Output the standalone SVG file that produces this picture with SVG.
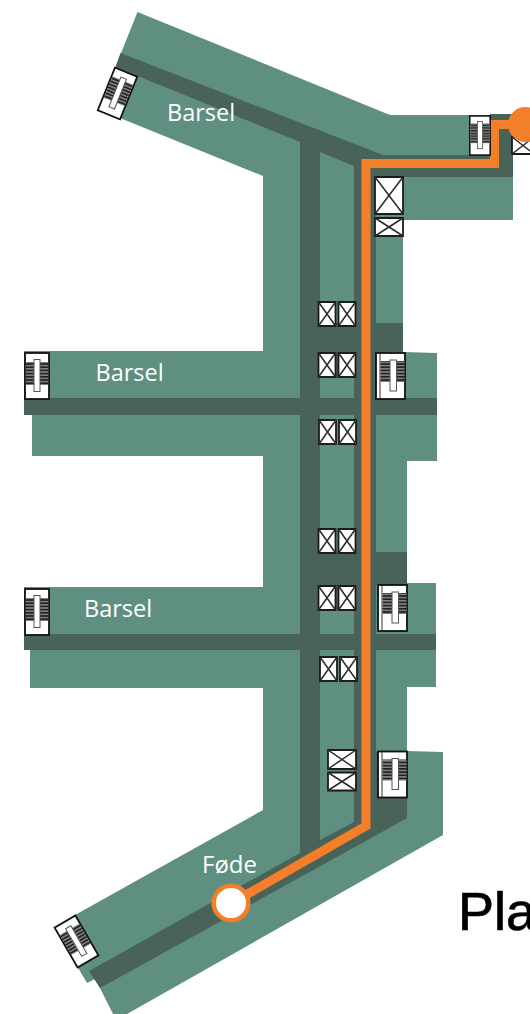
<svg xmlns="http://www.w3.org/2000/svg" width="530" height="1014" viewBox="0 0 530 1014">
<style>
.g{fill:#5f8f80}.d{fill:#4a6359}
.x{fill:#fff;stroke:#1c1c1c;stroke-width:1.8}
.xl{stroke:#2a2a2a;stroke-width:1.5;fill:none}
.lb{font-family:"Open Sans","Noto Sans",sans-serif;fill:#fff;font-size:23.5px}
.door{fill:#fff;stroke:#111;stroke-width:1.8}
</style>
<defs>
<pattern id="st" width="4" height="3.200" patternUnits="userSpaceOnUse"><rect width="4" height="3.200" fill="#808080"/><rect width="4" height="1.600" fill="#222"/></pattern>
<g id="door">
<rect class="door" x="-12" y="-23" width="24" height="46"/>
<rect x="-11.200" y="-14" width="22.400" height="23" fill="url(#st)"/>
<rect x="-3" y="-16.500" width="6" height="32" fill="#fff" stroke="#555" stroke-width="1"/>
</g>
<g id="doorw">
<rect class="door" x="-14.500" y="-23" width="29" height="46"/>
<path d="M-10.500-23V23" stroke="#333" stroke-width="1" fill="none"/>
<rect x="-10" y="-15" width="24" height="21" fill="url(#st)"/>
<rect x="-0.500" y="-16" width="6.500" height="31" fill="#fff" stroke="#555" stroke-width="1"/>
</g>
<g id="xb"><rect class="x" x="0" y="0" width="1" height="1" vector-effect="non-scaling-stroke"/><path class="xl" d="M0 0L1 1M1 0L0 1" vector-effect="non-scaling-stroke"/></g>
</defs>
<g id="plan-floor">
<path class="g" d="M137.500 12L390 115H513V220H403V352L437 353V461H407V583L436 583V687H407V751L443 752V835L127 1014H113L100 988L95 979L87 983L60 937L75 915L263 810V688H30V649H24V587L263 587V456H32V414H24V351H263V176L120 118L100 105L115.500 67Z"/>
<path class="d" d="M120.500 53L383 155H490V114H513V177H376V323H403V352H376V398H437V415H376V552H407V585H376V634H436V650H376V752H407V818L373 837L100 988L89 971L300 853V650H24V634H300V415H24V398H300V142L115.500 67Z"/>
<path class="g" d="M320 152L354 166V323H320ZM320 378H354V398H320ZM320 415H354V552H320ZM320 610H354V634H320ZM320 650H354V822L320 840Z"/>
</g>
<g id="connectors">
<path d="M232 903L366 826V163.500H494.500V124.500H520" fill="none" stroke="#f47f2b" stroke-width="9"/>
</g>
<g id="x-boxes">
<use href="#xb" transform="translate(318.500 302) scale(17 24)"/>
<use href="#xb" transform="translate(338.500 302) scale(17 24)"/>
<use href="#xb" transform="translate(318.500 353) scale(17 24)"/>
<use href="#xb" transform="translate(338.500 353) scale(17 24)"/>
<use href="#xb" transform="translate(319 420) scale(17 24)"/>
<use href="#xb" transform="translate(339 420) scale(17 24)"/>
<use href="#xb" transform="translate(318.500 529) scale(17 24)"/>
<use href="#xb" transform="translate(338.500 529) scale(17 24)"/>
<use href="#xb" transform="translate(318.500 586) scale(17 24)"/>
<use href="#xb" transform="translate(338.500 586) scale(17 24)"/>
<use href="#xb" transform="translate(320 657) scale(17 24)"/>
<use href="#xb" transform="translate(340 657) scale(17 24)"/>
<use href="#xb" transform="translate(328 750) scale(28 19)"/>
<use href="#xb" transform="translate(328 772.500) scale(28 18)"/>
<use href="#xb" transform="translate(375 177) scale(28 37)"/>
<use href="#xb" transform="translate(375 218) scale(28 18)"/>
<use href="#xb" transform="translate(512 137) scale(22 17)"/>
</g>
<g id="doors">
<use href="#door" transform="translate(117.500 93.500) rotate(22)"/>
<use href="#door" transform="translate(76.500 941.500) rotate(-30)"/>
<use href="#door" transform="translate(37 376)"/>
<use href="#door" transform="translate(37 612)"/>
<use href="#door" transform="translate(480 135.500) scale(.85)"/>
<use href="#doorw" transform="translate(390.500 376)"/>
<use href="#doorw" transform="translate(392.500 608)"/>
<use href="#doorw" transform="translate(392.500 774.500)"/>
</g>
<g id="stops">
<circle id="stop-top" cx="525.500" cy="124.500" r="17.500" fill="#f47f2b"/>
<circle id="stop-fode" cx="231" cy="903" r="17.300" fill="#fff" stroke="#f47f2b" stroke-width="4.500"/>
</g>
<g id="labels">
<text class="lb" x="167" y="121">Barsel</text>
<text class="lb" x="95.500" y="381">Barsel</text>
<text class="lb" x="84" y="617">Barsel</text>
<text class="lb" x="202" y="873" style="font-size:24px">Føde</text>
<text x="458" y="930" font-family="'Liberation Sans',sans-serif" font-size="54" fill="#000" stroke="#000" stroke-width=".7">Pla</text>
</g>
</svg>
